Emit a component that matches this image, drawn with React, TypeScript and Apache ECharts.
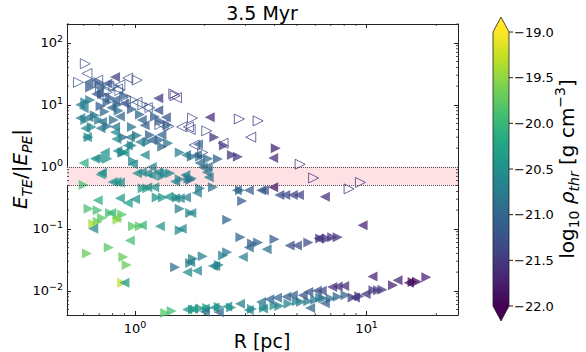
import React, { useEffect, useRef } from 'react';
import * as echarts from 'echarts';

// [R (pc), E_TE/|E_PE|, log10 rho_thr]
const rightFilled: number[][] = [
  [0.64,19,-21.1],[0.61,11,-20.7],[0.64,12,-20.8],[0.76,11,-21.0],[0.84,10,-21.1],[0.74,7.7,-21.0],[0.71,9.5,-21.1],
  [0.67,6.8,-20.8],[0.70,5.7,-20.8],[0.61,5.7,-20.7],[0.65,4.4,-20.6],[0.76,4.5,-20.9],[0.81,5.7,-20.9],[0.97,4.4,-20.9],
  [0.63,3.0,-20.6],[0.89,3.0,-21.0],[0.97,2.2,-20.7],[1.13,2.5,-20.8],[1.28,2.7,-21.0],[1.39,2.4,-20.9],[1.56,1.7,-20.7],
  [1.76,1.45,-20.9],[1.91,1.45,-20.8],[2.07,1.35,-20.9],[1.22,6.4,-21.1],[1.28,5.5,-21.1],[1.38,4.7,-21.0],[0.89,1.7,-20.6],
  [0.76,1.35,-20.5],[0.88,1.7,-20.6],[0.98,1.23,-20.6],[0.70,23,-21.2],[0.90,14,-21.1],[0.97,8.5,-21.1],[1.05,7,-21.0],
  [0.85,8,-20.9],[0.78,13,-21.1],[0.72,15,-21.1],[1.16,3.25,-21.1],[1.31,2.1,-21.0],[1.02,3.2,-20.8],
  [2.2,3.0,-21.5],[2.42,2.2,-21.5],[2.62,1.55,-21.5],[2.78,1.45,-21.5],[4.05,2.0,-21.7],[2.28,1.33,-21.1],
  [1.31,0.71,-20.6],[1.42,0.79,-20.6],[1.56,0.63,-20.7],[1.7,0.65,-20.8],[1.76,0.65,-20.8],[1.73,0.61,-20.9],[0.6,0.51,-19.9],[1.35,0.8,-20.6],
  [0.69,0.2,-19.9],[0.72,0.15,-19.8],[0.69,0.13,-19.7],[0.66,0.12,-19.4],[0.88,0.17,-19.8],[0.84,0.14,-19.5],[0.98,0.11,-19.8],
  [1.05,0.11,-19.8],[0.77,0.05,-19.8],[0.62,0.04,-19.7],[0.89,0.035,-19.7],[0.92,0.026,-19.7],[0.88,0.0135,-19.3],[0.63,0.21,-19.9],
  [0.78,0.18,-19.9],[1.08,0.45,-20.4],[1.13,0.45,-20.4],[1.24,0.32,-20.5],[1.32,0.32,-20.4],[1.52,0.32,-20.5],[1.56,0.21,-20.7],
  [1.73,0.18,-20.6],[1.56,0.095,-20.6],[1.91,0.45,-20.8],[2.17,0.47,-20.9],[2.84,0.42,-21.0],[2.9,0.28,-21.1],[2.5,0.14,-21.0],
  [1.49,0.024,-20.9],[1.78,0.033,-20.7],[1.96,0.036,-20.7],[2.4,0.037,-20.7],[2.5,0.042,-20.8],[2.85,0.073,-21.0],[3.2,0.058,-21.1],
  [3.4,0.06,-21.1],[4.0,0.068,-21.1],[5.6,0.06,-21.3],[6.75,0.07,-21.6],[7.1,0.073,-21.5],[7.5,0.073,-21.6],[6.3,0.07,-21.5],
  [2.3,0.026,-20.7],[1.73,0.028,-20.7],
  [1.35,0.0044,-19.8],[1.44,0.0047,-19.9],[1.78,0.005,-20.5],[1.91,0.0052,-20.4],[2.05,0.0053,-20.4],[2.3,0.0055,-20.5],
  [2.6,0.0054,-20.5],[3.2,0.0051,-20.6],[3.6,0.0053,-20.6],[4.0,0.0058,-20.6],[4.2,0.0057,-20.7],[4.6,0.0062,-20.7],
  [5.2,0.0066,-20.7],[5.6,0.0068,-20.8],[6.0,0.0072,-20.8],[6.5,0.0075,-20.9],[7.0,0.0075,-20.9],[7.5,0.008,-21.0],
  [8.1,0.0085,-21.0],[8.7,0.0078,-21.4],[9.3,0.0082,-21.5],[10.7,0.0102,-21.4],[11.2,0.0102,-21.5],[11.7,0.0104,-21.5],
  [13,0.0123,-21.7],[15.8,0.0138,-21.9],[16.5,0.014,-21.9],[18.1,0.0165,-21.7],[5.0,0.0068,-20.7],[6.3,0.0077,-20.8]
];

const leftFilled: number[][] = [
  [0.63,23,-21.1],[0.7,19,-21.1],[0.82,28,-21.4],[0.82,12,-21.1],[0.79,9,-21.0],[0.58,10,-20.7],[0.6,8.8,-20.7],
  [0.58,6.1,-20.7],[0.63,6.3,-20.8],[0.72,5.3,-20.8],[0.82,4.4,-20.8],[0.61,4.2,-20.6],[0.71,4.2,-20.8],[0.82,3.6,-20.6],
  [0.83,2.8,-20.6],[0.62,3.0,-20.6],[0.93,2.2,-20.6],[1.05,2.5,-20.7],[1.18,2.7,-21.1],[1.26,12.8,-21.5],[1.26,8.2,-21.3],
  [1.07,5.7,-21.0],[1.1,4.7,-21.1],[0.95,3.0,-20.8],[0.86,6.5,-21.0],[0.76,22,-21.2],[0.68,15,-21.2],[0.9,10.5,-21.2],
  [1.36,6.3,-21.2],[1.3,3.3,-21.0],[1.66,1.55,-20.8],[1.87,2.3,-21.0],[1.85,1.55,-21.0],[1.9,1.15,-21.0],[0.67,1.35,-20.5],
  [0.84,1.8,-20.6],[0.74,1.7,-20.5],[0.69,1.37,-20.5],[0.6,1.15,-20.1],[1.1,1.55,-20.6],[0.98,1.1,-20.6],[0.9,1.7,-20.5],
  [2.1,6.3,-21.6],[3.95,1.38,-21.6],
  [0.72,0.8,-20.5],[0.71,0.75,-20.5],[0.8,0.57,-20.5],[0.83,0.57,-20.5],[0.86,0.56,-20.5],[1.02,0.79,-20.6],[1.07,0.82,-20.6],
  [1.13,0.78,-20.6],[1.18,0.73,-20.6],[1.18,0.99,-20.7],[1.26,0.82,-20.6],[1.49,0.58,-20.6],[1.65,0.74,-20.7],[2.04,0.82,-20.8],
  [2.08,0.68,-20.8],[1.96,0.98,-20.9],[2.06,1.0,-20.9],[1.13,0.47,-20.5],[1.21,0.47,-20.5],
  [0.69,0.29,-20.1],[0.66,0.1,-20.6],[0.79,0.18,-20.0],[0.83,0.15,-19.6],[0.86,0.31,-20.4],[1.0,0.3,-20.5],[0.95,0.065,-19.9],
  [1.28,0.11,-20.4],[1.39,0.33,-20.5],[1.49,0.31,-20.6],[1.56,0.31,-20.6],[1.66,0.32,-20.7],[1.85,0.38,-20.7],[1.59,0.1,-20.6],
  [0.9,0.0135,-20.4],[0.93,0.26,-20.3],[1.07,0.114,-20.0],[1.75,0.18,-20.6],
  [2.75,0.42,-21.0],[3.1,0.42,-21.1],[3.5,0.42,-21.2],[3.6,0.42,-21.2],[3.95,0.47,-21.9],[4.2,0.35,-21.3],[4.45,0.35,-21.3],
  [4.8,0.35,-21.4],[5.1,0.35,-21.4],[6.6,0.33,-21.6],
  [1.68,0.02,-20.6],[1.85,0.021,-20.6],[2.17,0.025,-20.6],[2.22,0.025,-20.7],[2.92,0.035,-20.7],[3.1,0.05,-21.0],[3.7,0.047,-20.9],
  [4.65,0.054,-21.3],[5.0,0.054,-21.3],[6.2,0.07,-21.6],[9.6,0.114,-21.7],[1.73,0.029,-20.7],
  [1.68,0.005,-20.4],[1.78,0.0051,-20.4],[2.0,0.0052,-20.4],[2.2,0.0054,-20.5],[2.5,0.0056,-20.5],[2.84,0.0062,-20.7],
  [3.1,0.0049,-20.6],[3.57,0.0052,-20.6],[3.5,0.0066,-20.9],[3.8,0.0073,-21.0],[4.1,0.0077,-21.0],[4.5,0.008,-21.1],
  [4.8,0.0085,-21.1],[5.3,0.0085,-21.2],[5.6,0.0096,-21.2],[6.1,0.01,-21.3],[6.4,0.01,-21.3],[5.7,0.0053,-21.0],
  [6.6,0.0063,-21.1],[8.9,0.0078,-21.6],[9.9,0.0089,-21.6],[7.1,0.0115,-21.6],[7.5,0.0117,-21.6],[8.0,0.012,-21.6],
  [10.6,0.017,-21.7],[13.6,0.0148,-21.7],[15.2,0.0135,-21.9],[2.0,0.0046,-20.9],[2.3,0.0045,-21.0]
];

const rightHollow: number[][] = [
  [0.61,46,-21.3],[0.57,23,-21.2],[0.81,20,-21.2],[0.71,19,-21.1],[1.02,25,-21.3],[0.97,12,-21.2],[1.08,10,-21.2],
  [1.16,9,-21.2],[1.47,15,-21.5],[1.49,14,-21.5],[1.77,6.1,-21.4],[2.82,5.9,-21.6],[3.4,5.5,-21.6],[2.04,3.8,-21.4],
  [1.96,1.7,-21.4],[5.16,1.1,-21.6],[5.9,0.66,-21.6],[9.4,0.56,-21.6],[8.4,0.44,-21.6],[1.28,4.8,-21.3],[1.4,4.5,-21.3],
  [0.86,17,-21.1],[0.76,16,-21.2]
];

const leftHollow: number[][] = [
  [0.62,32,-21.3],[0.69,25,-21.2],[0.77,20,-21.2],[0.93,27,-21.4],[0.86,21,-21.2],[0.84,18,-21.2],[1.02,11,-21.2],
  [1.13,9,-21.3],[0.91,11.5,-21.2],[1.51,13,-21.5],[1.59,4.4,-21.4],[1.7,4.4,-21.4],[1.73,4.0,-21.3],[1.32,4.7,-21.3],
  [2.4,2.4,-21.4],[3.16,3.0,-21.6],[1.8,2.24,-21.4],[0.73,13,-21.2]
];

const bandRange = [0.5, 1.0];
const xMinorTicks = [0.6, 0.7, 0.8, 0.9, 2, 3, 4, 5, 6, 7, 8, 9, 20];
const yMinorTicks = [
  0.005, 0.006, 0.007, 0.008, 0.009, 0.02, 0.03, 0.04, 0.05, 0.06, 0.07, 0.08, 0.09,
  0.2, 0.3, 0.4, 0.5, 0.6, 0.7, 0.8, 0.9, 2, 3, 4, 5, 6, 7, 8, 9, 20, 30, 40, 50, 60, 70, 80, 90, 200
];
const cbTicks = [-19.0, -19.5, -20.0, -20.5, -21.0, -21.5, -22.0];
const cbMin = -22;
const cbMax = -19;

const VIRIDIS = ['#440154', '#482475', '#414487', '#355f8d', '#2a788e', '#21918c', '#22a884', '#44bf70', '#7ad151', '#bddf26', '#fde725'];

function hexToRgb(h: string) {
  return [parseInt(h.slice(1, 3), 16), parseInt(h.slice(3, 5), 16), parseInt(h.slice(5, 7), 16)];
}
function viridis(v: number) {
  let t = (v - cbMin) / (cbMax - cbMin);
  t = Math.max(0, Math.min(1, t));
  const p = t * (VIRIDIS.length - 1);
  const i = Math.min(VIRIDIS.length - 2, Math.floor(p));
  const f = p - i;
  const a = hexToRgb(VIRIDIS[i]);
  const b = hexToRgb(VIRIDIS[i + 1]);
  const c = a.map((x, k) => Math.round(x + (b[k] - x) * f));
  return `rgb(${c[0]},${c[1]},${c[2]})`;
}

const FONT = 'DejaVu Sans';
const LEFT_SYM = 'path://M0,5L10,0L10,10Z';
const RIGHT_SYM = 'path://M10,5L0,0L0,10Z';

const GRID = { left: 67, top: 24, width: 391, height: 291 };
const CB = { x: 493, w: 16, top: 32, bottom: 306, ext: 15 };

function fmtPow(v: number) {
  const e = Math.round(Math.log10(v));
  const s = e < 0 ? '\u2212' + -e : String(e);
  return `{b|10}{s|${s}}`;
}

export default function App() {
  const ref = useRef<HTMLDivElement>(null);
  useEffect(() => {
    if (!ref.current) return;
    const chart = echarts.init(ref.current, undefined, { renderer: 'svg' });

    const filled = (arr: number[][]) =>
      arr.map((d) => ({ value: [d[0], d[1]], itemStyle: { color: viridis(d[2]), opacity: 0.75 } }));
    const hollow = (arr: number[][]) =>
      arr.map((d) => ({
        value: [d[0], d[1]],
        itemStyle: { color: 'rgba(0,0,0,0)', borderColor: viridis(d[2]), borderWidth: 1, opacity: 0.75 }
      }));

    const labelRich = {
      b: { fontSize: 13, fontFamily: FONT, color: '#000', lineHeight: 18 },
      s: { fontSize: 9.5, fontFamily: FONT, color: '#000', verticalAlign: 'top', lineHeight: 10 }
    };
    const axisCommon = {
      type: 'log',
      logBase: 10,
      axisLine: { show: true, lineStyle: { color: '#222', width: 1 } },
      axisTick: { show: true, inside: true, length: 4, lineStyle: { color: '#222', width: 1 } },
      splitLine: { show: false },
      minorTick: { show: false }
    };

    const cbY = (v: number) => CB.top + ((cbMax - v) / (cbMax - cbMin)) * (CB.bottom - CB.top);

    const cbGraphics: any[] = [
      {
        type: 'rect',
        shape: { x: CB.x, y: CB.top, width: CB.w, height: CB.bottom - CB.top },
        style: {
          fill: {
            type: 'linear', x: 0, y: 0, x2: 0, y2: 1,
            colorStops: VIRIDIS.slice().reverse().map((c, i) => ({ offset: i / (VIRIDIS.length - 1), color: c }))
          }
        }
      },
      {
        type: 'polygon',
        shape: { points: [[CB.x, CB.top], [CB.x + CB.w, CB.top], [CB.x + CB.w / 2, CB.top - CB.ext]] },
        style: { fill: VIRIDIS[VIRIDIS.length - 1] }
      },
      {
        type: 'polygon',
        shape: { points: [[CB.x, CB.bottom], [CB.x + CB.w, CB.bottom], [CB.x + CB.w / 2, CB.bottom + CB.ext]] },
        style: { fill: VIRIDIS[0] }
      },
      {
        type: 'polygon',
        shape: {
          points: [
            [CB.x, CB.top], [CB.x + CB.w / 2, CB.top - CB.ext], [CB.x + CB.w, CB.top],
            [CB.x + CB.w, CB.bottom], [CB.x + CB.w / 2, CB.bottom + CB.ext], [CB.x, CB.bottom]
          ]
        },
        style: { fill: 'none', stroke: '#222', lineWidth: 0.8 }
      }
    ];
    cbTicks.forEach((v) => {
      const y = cbY(v);
      cbGraphics.push({
        type: 'line',
        shape: { x1: CB.x + CB.w, y1: y, x2: CB.x + CB.w + 4, y2: y },
        style: { stroke: '#222', lineWidth: 1 }
      });
      cbGraphics.push({
        type: 'text',
        x: CB.x + CB.w + 5,
        y: y,
        style: {
          text: (v < 0 ? '\u2212' : '') + Math.abs(v).toFixed(1),
          fontSize: 13, fontFamily: FONT, fill: '#000', align: 'left', verticalAlign: 'middle'
        }
      });
    });

    const option: any = {
      animation: false,
      backgroundColor: '#fff',
      grid: { left: GRID.left, top: GRID.top, width: GRID.width, height: GRID.height, containLabel: false },
      xAxis: [
        {
          ...axisCommon, position: 'bottom', min: 0.5085, max: 24.8,
          axisLabel: { show: true, formatter: fmtPow, rich: labelRich, margin: 4, showMinLabel: false, showMaxLabel: false }
        },
        { ...axisCommon, position: 'top', min: 0.5085, max: 24.8, axisLabel: { show: false } }
      ],
      yAxis: [
        {
          ...axisCommon, position: 'left', min: 0.00407, max: 201,
          axisLabel: { show: true, formatter: fmtPow, rich: labelRich, margin: 4, showMinLabel: false, showMaxLabel: false }
        },
        { ...axisCommon, position: 'right', min: 0.00407, max: 201, axisLabel: { show: false } }
      ],
      series: [
        {
          type: 'scatter', data: [], silent: true, z: 1,
          markArea: { silent: true, itemStyle: { color: '#fde1e4' }, data: [[{ yAxis: bandRange[0] }, { yAxis: bandRange[1] }]] },
          markLine: {
            silent: true, symbol: 'none', label: { show: false },
            lineStyle: { type: 'dotted', color: '#555', width: 1 },
            data: [{ yAxis: bandRange[0] }, { yAxis: bandRange[1] }]
          }
        },
        { type: 'scatter', symbol: RIGHT_SYM, symbolSize: 10, data: filled(rightFilled), silent: true, z: 3 },
        { type: 'scatter', symbol: LEFT_SYM, symbolSize: 10, data: filled(leftFilled), silent: true, z: 3 },
        { type: 'scatter', symbol: RIGHT_SYM, symbolSize: 10, data: hollow(rightHollow), silent: true, z: 3 },
        { type: 'scatter', symbol: LEFT_SYM, symbolSize: 10, data: hollow(leftHollow), silent: true, z: 3 },
        {
          type: 'custom', silent: true, z: 5, clip: false,
          data: xMinorTicks.map((v) => [v, 1]),
          renderItem: (params: any, api: any) => {
            const cs = params.coordSys;
            const p = api.coord([api.value(0), 1]);
            const x = p[0];
            const st = { stroke: '#222', lineWidth: 0.8 };
            return {
              type: 'group',
              children: [
                { type: 'line', shape: { x1: x, y1: cs.y + cs.height, x2: x, y2: cs.y + cs.height - 2 }, style: st },
                { type: 'line', shape: { x1: x, y1: cs.y, x2: x, y2: cs.y + 2 }, style: st }
              ]
            };
          }
        },
        {
          type: 'custom', silent: true, z: 5, clip: false,
          data: yMinorTicks.map((v) => [1, v]),
          renderItem: (params: any, api: any) => {
            const cs = params.coordSys;
            const p = api.coord([1, api.value(1)]);
            const y = p[1];
            const st = { stroke: '#222', lineWidth: 0.8 };
            return {
              type: 'group',
              children: [
                { type: 'line', shape: { x1: cs.x, y1: y, x2: cs.x + 2, y2: y }, style: st },
                { type: 'line', shape: { x1: cs.x + cs.width, y1: y, x2: cs.x + cs.width - 2, y2: y }, style: st }
              ]
            };
          }
        }
      ],
      graphic: [
        {
          type: 'text', x: 262, y: 13,
          style: { text: '3.5 Myr', fontSize: 19, fontFamily: FONT, fill: '#000', align: 'center', verticalAlign: 'middle' }
        },
        {
          type: 'text', x: 262, y: 341,
          style: { text: 'R [pc]', fontSize: 19, fontFamily: FONT, fill: '#000', align: 'center', verticalAlign: 'middle' }
        },
        {
          type: 'text', x: 20, y: 169, rotation: Math.PI / 2,
          style: {
            text: '{i|E}{sb|TE}{n|/|}{i|E}{sb|PE}{n||}',
            align: 'center', verticalAlign: 'middle',
            rich: {
              i: { fontSize: 20, fontFamily: FONT, fontStyle: 'italic', fill: '#000', lineHeight: 28 },
              n: { fontSize: 20, fontFamily: FONT, fill: '#000', lineHeight: 28 },
              sb: { fontSize: 14, fontFamily: FONT, fontStyle: 'italic', fill: '#000', verticalAlign: 'bottom', lineHeight: 14 }
            }
          }
        },
        {
          type: 'text', x: 567, y: 169, rotation: Math.PI / 2,
          style: {
            text: '{n|log}{sbn|10}{n| }{i|\u03c1}{sb|thr}{n| [g cm}{sp|\u22123}{n|]}',
            align: 'center', verticalAlign: 'middle',
            rich: {
              i: { fontSize: 20, fontFamily: FONT, fontStyle: 'italic', fill: '#000', lineHeight: 28 },
              n: { fontSize: 20, fontFamily: FONT, fill: '#000', lineHeight: 28 },
              sb: { fontSize: 14, fontFamily: FONT, fontStyle: 'italic', fill: '#000', verticalAlign: 'bottom', lineHeight: 14 },
              sbn: { fontSize: 14, fontFamily: FONT, fill: '#000', verticalAlign: 'bottom', lineHeight: 14 },
              sp: { fontSize: 14, fontFamily: FONT, fill: '#000', verticalAlign: 'top', lineHeight: 14 }
            }
          }
        },
        ...cbGraphics
      ]
    };
    chart.setOption(option);
    return () => chart.dispose();
  }, []);

  return <div ref={ref} style={{ position: 'fixed', left: 0, top: 0, width: 586, height: 352 }} />;
}
